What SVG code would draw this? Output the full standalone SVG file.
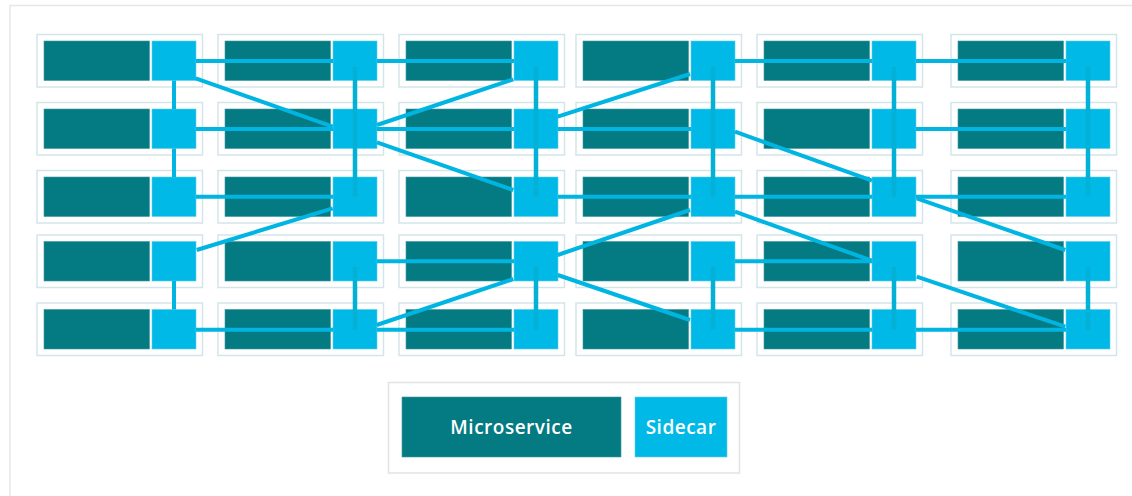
<svg xmlns="http://www.w3.org/2000/svg" xmlns:xlink="http://www.w3.org/1999/xlink" width="1132" height="496" viewBox="0 0 1132 496">
<style>
.frame{fill:none;stroke:#e6e6e6;stroke-width:1.5}
.box{fill:#ffffff;stroke:#d4e5ea;stroke-width:1.5}
.ms{fill:#047a82;stroke:#3f9aa0;stroke-width:0.6}
.sc{fill:#00b9e6;stroke:#5ccdea;stroke-width:0.6}
.ln{stroke:#00b5e1;stroke-width:4;fill:none}
.vl{stroke:#04b1d6;stroke-width:4.5;fill:none}
.lbox{fill:#ffffff;stroke:#e3e3e3;stroke-width:1.5}
.lt{font-family:"Open Sans","Liberation Sans",sans-serif;font-size:19px;font-weight:600;letter-spacing:0.5px;fill:#ffffff;text-anchor:middle}
</style>
<defs>
<g id="node">
<rect class="box" x="0" y="-6.5" width="165.5" height="52.5"/>
<rect class="ms" x="7" y="0" width="105.5" height="39.5"/>
<rect class="sc" x="115" y="0" width="44" height="39.5"/>
</g>
</defs>
<path class="frame" d="M10,496 V5.5 H1132"/>
<g id="nodes">
<g id="n11"><use xlink:href="#node" x="37" y="41"/></g>
<g id="n12"><use xlink:href="#node" x="218" y="41"/></g>
<g id="n13"><use xlink:href="#node" x="399" y="41"/></g>
<g id="n14"><use xlink:href="#node" x="576" y="41"/></g>
<g id="n15"><use xlink:href="#node" x="757" y="41"/></g>
<g id="n16"><use xlink:href="#node" x="951" y="41"/></g>
<g id="n21"><use xlink:href="#node" x="37" y="109"/></g>
<g id="n22"><use xlink:href="#node" x="218" y="109"/></g>
<g id="n23"><use xlink:href="#node" x="399" y="109"/></g>
<g id="n24"><use xlink:href="#node" x="576" y="109"/></g>
<g id="n25"><use xlink:href="#node" x="757" y="109"/></g>
<g id="n26"><use xlink:href="#node" x="951" y="109"/></g>
<g id="n31"><use xlink:href="#node" x="37" y="177"/></g>
<g id="n32"><use xlink:href="#node" x="218" y="177"/></g>
<g id="n33"><use xlink:href="#node" x="399" y="177"/></g>
<g id="n34"><use xlink:href="#node" x="576" y="177"/></g>
<g id="n35"><use xlink:href="#node" x="757" y="177"/></g>
<g id="n36"><use xlink:href="#node" x="951" y="177"/></g>
<g id="n41"><use xlink:href="#node" x="37" y="241.5"/></g>
<g id="n42"><use xlink:href="#node" x="218" y="241.5"/></g>
<g id="n43"><use xlink:href="#node" x="399" y="241.5"/></g>
<g id="n44"><use xlink:href="#node" x="576" y="241.5"/></g>
<g id="n45"><use xlink:href="#node" x="757" y="241.5"/></g>
<g id="n46"><use xlink:href="#node" x="951" y="241.5"/></g>
<g id="n51"><use xlink:href="#node" x="37" y="309.5"/></g>
<g id="n52"><use xlink:href="#node" x="218" y="309.5"/></g>
<g id="n53"><use xlink:href="#node" x="399" y="309.5"/></g>
<g id="n54"><use xlink:href="#node" x="576" y="309.5"/></g>
<g id="n55"><use xlink:href="#node" x="757" y="309.5"/></g>
<g id="n56"><use xlink:href="#node" x="951" y="309.5"/></g>
</g>
<g id="connectors">
<path class="ln" d="M196,61 H333 M377,61 H514 M735,61 H872 M916,61 H1066"/>
<path class="ln" d="M196,129 H333 M377,129 H514 M558,129 H691 M916,129 H1066"/>
<path class="ln" d="M196,196.8 H333 M558,196.8 H691 M735,196.8 H872 M916,196.8 H1066"/>
<path class="ln" d="M377,261.2 H514 M735,261.2 H872"/>
<path class="ln" d="M196,329.8 H333 M377,329.8 H514 M735,329.8 H872 M916,329.8 H1066"/>
<path class="ln" d="M195.7,78.3 L332.7,126.7"/>
<path class="ln" d="M377,125 L513.3,79.3"/>
<path class="ln" d="M377,142.3 L513.3,190"/>
<path class="ln" d="M557.7,116.7 L690,74"/>
<path class="ln" d="M735,131.7 L872,180.7"/>
<path class="ln" d="M196.7,250 L332.7,208.3"/>
<path class="ln" d="M557.7,255 L690,210"/>
<path class="ln" d="M735,211.7 L872,260.7"/>
<path class="ln" d="M916.7,198.3 L1065.3,250"/>
<path class="ln" d="M376.7,325 L513.3,279"/>
<path class="ln" d="M557.7,275 L690,320"/>
<path class="ln" d="M916.7,276.7 L1065.3,326.7"/>
<path class="ln" d="M174,80.5 V109 M174,148.5 V177 M174,281 V309.5"/>
<path class="vl" d="M355,67 V196.8 M355,267 V329.8"/>
<path class="vl" d="M536,67 V196.8 M536,267 V329.8"/>
<path class="vl" d="M713,67 V196.8 M713,267 V329.8"/>
<path class="vl" d="M894,67 V196.8 M894,267 V329.8"/>
<path class="vl" d="M1088,67 V196.8 M1088,267 V329.8"/>
</g>
<g id="legend">
<rect class="lbox" x="388.5" y="382.5" width="351" height="90.5"/>
<g id="legend-microservice">
<rect class="ms" x="402" y="397" width="219" height="60"/>
<text class="lt" x="511.5" y="433.5">Microservice</text>
</g>
<g id="legend-sidecar">
<rect class="sc" x="635" y="397" width="92" height="60"/>
<text class="lt" x="681" y="433.5">Sidecar</text>
</g>
</g>
</svg>
